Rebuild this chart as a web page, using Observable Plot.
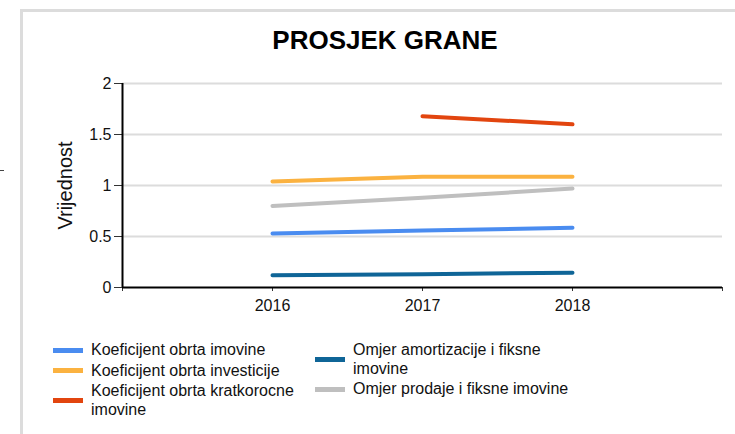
<!DOCTYPE html>
<html>
<head>
<meta charset="utf-8">
<script src="https://cdn.jsdelivr.net/npm/d3@7"></script>
<script src="https://cdn.jsdelivr.net/npm/@observablehq/plot@0.6"></script>
<style>
  html, body { margin: 0; padding: 0; background: #fff; }
  body { width: 735px; height: 434px; overflow: hidden; position: relative; font-family: "Liberation Sans", Arial, sans-serif; color: #111; }
  #frame { position: absolute; left: 20px; top: 9px; right: 0; bottom: 0; border-top: 3px solid #dcdcdc; border-left: 3px solid #dcdcdc; pointer-events: none; }
  #dash { position: absolute; left: 0; top: 170px; width: 4px; height: 1px; background: #444; }
  #title { position: relative; box-sizing: border-box; width: 735px; height: 62px; padding: 25px 0 0 35px; text-align: center; font-weight: bold; font-size: 26px; line-height: 30px; color: #000; }
  #chart { position: relative; height: 255px; }
  #chart svg g[aria-label="y-axis label"] text { font-size: 20px; }
  #legend { position: relative; height: 117px; }
  .col { position: absolute; top: 24px; display: flex; flex-direction: column; }
  .item { display: flex; align-items: center; margin-bottom: 2px; }
  .sw { width: 30px; height: 5px; flex: none; margin-right: 8px; }
  .lbl { font-size: 16px; line-height: 18.5px; color: #111; }
</style>
</head>
<body>
<div id="frame"></div>
<div id="dash"></div>
<div id="title"></div>
<div id="chart"></div>
<div id="legend"></div>
<script>
const titleText = "PROSJEK GRANE";
const yLabel = "Vrijednost";
const years = [2016, 2017, 2018];
const xTicks = [2015, 2016, 2017, 2018, 2019];
const xTickLabels = ["", "2016", "2017", "2018", ""];
const yTicks = [0, 0.5, 1, 1.5, 2];
const yTickLabels = ["0", "0.5", "1", "1.5", "2"];
const seriesNames = [
  "Koeficijent obrta imovine",
  "Koeficijent obrta investicije",
  "Koeficijent obrta kratkorocne imovine",
  "Omjer amortizacije i fiksne imovine",
  "Omjer prodaje i fiksne imovine"
];
const seriesColors = ["#4a8cf0", "#fbb240", "#e2450f", "#0f6597", "#bfbfbf"];
const obrtaImovine = [0.53, 0.56, 0.585];
const obrtaInvesticije = [1.04, 1.085, 1.085];
const obrtaKratkorocne = [null, 1.68, 1.60];
const amortizacije = [0.12, 0.13, 0.145];
const prodaje = [0.80, 0.88, 0.97];
const seriesValues = [obrtaImovine, obrtaInvesticije, obrtaKratkorocne, amortizacije, prodaje];

document.getElementById("title").textContent = titleText;

const rows = [];
seriesNames.forEach((name, i) => {
  years.forEach((yr, j) => {
    const v = seriesValues[i][j];
    if (v !== null) rows.push({series: name, year: yr, value: v});
  });
});

const chart = Plot.plot({
  width: 735,
  height: 255,
  marginLeft: 122,
  marginRight: 13,
  marginTop: 21,
  marginBottom: 30,
  style: {fontFamily: "'Liberation Sans', Arial, sans-serif", fontSize: "16px", color: "#111", background: "transparent", overflow: "visible"},
  x: {domain: [xTicks[0], xTicks[xTicks.length - 1]]},
  y: {domain: [yTicks[0], yTicks[yTicks.length - 1]]},
  color: {domain: seriesNames, range: seriesColors},
  marks: [
    Plot.gridY(yTicks.slice(1), {stroke: "#dcdcdc", strokeOpacity: 1, strokeWidth: 2}),
    Plot.axisY(yTicks, {tickSize: 8, tickPadding: 3, tickFormat: (d, i) => yTickLabels[yTicks.indexOf(d)], label: yLabel, labelAnchor: "center", labelArrow: "none", labelOffset: 65, stroke: "#333"}),
    Plot.axisX(xTicks, {tickSize: 4, tickPadding: 8, tickFormat: d => xTickLabels[xTicks.indexOf(d)], label: null, stroke: "#333"}),
    Plot.ruleX([xTicks[0]], {stroke: "#000", strokeWidth: 2}),
    Plot.ruleY([yTicks[0]], {stroke: "#000", strokeWidth: 2}),
    Plot.line(rows, {x: "year", y: "value", z: "series", stroke: "series", strokeWidth: 4, strokeLinecap: "round", strokeLinejoin: "round"})
  ]
});
document.getElementById("chart").appendChild(chart);

const legend = document.getElementById("legend");
const columns = [[0, 1, 2], [3, 4]];
const colLeft = [53, 315];
const colTextWidth = [215, 225];
columns.forEach((idxs, c) => {
  const col = document.createElement("div");
  col.className = "col";
  col.style.left = colLeft[c] + "px";
  idxs.forEach(i => {
    const item = document.createElement("div");
    item.className = "item";
    const sw = document.createElement("div");
    sw.className = "sw";
    sw.style.background = seriesColors[i];
    const lbl = document.createElement("div");
    lbl.className = "lbl";
    lbl.style.width = colTextWidth[c] + "px";
    lbl.textContent = seriesNames[i];
    item.appendChild(sw);
    item.appendChild(lbl);
    col.appendChild(item);
  });
  legend.appendChild(col);
});
</script>
</body>
</html>
